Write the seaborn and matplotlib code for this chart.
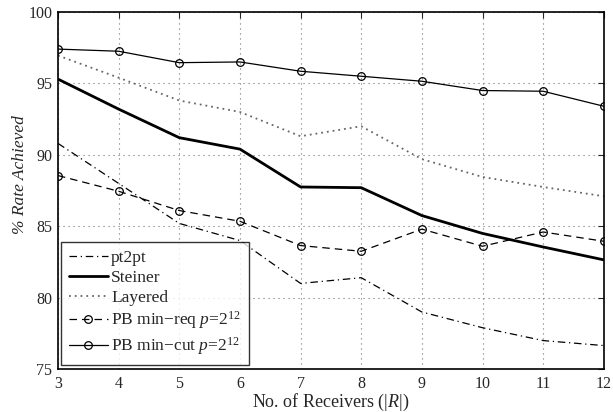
import matplotlib
matplotlib.use("Agg")
import matplotlib.pyplot as plt
import seaborn as sns
import pandas as pd

receivers = [3, 4, 5, 6, 7, 8, 9, 10, 11, 12]
pt2pt = [90.8, 88.0, 85.2, 84.0, 81.0, 81.4, 79.0, 77.9, 77.0, 76.65]
steiner = [95.3, 93.2, 91.2, 90.4, 87.75, 87.7, 85.75, 84.5, 83.55, 82.65]
layered = [96.95, 95.4, 93.8, 93.0, 91.3, 92.0, 89.7, 88.45, 87.75, 87.1]
pb_min_req = [88.55, 87.45, 86.1, 85.35, 83.65, 83.25, 84.8, 83.6, 84.6, 83.95]
pb_min_cut = [97.4, 97.25, 96.45, 96.5, 95.85, 95.5, 95.15, 94.5, 94.45, 93.4]

labels = ["pt2pt", "Steiner", "Layered",
          r"PB min$-$req $p$=2$^{\mathit{12}}$",
          r"PB min$-$cut $p$=2$^{\mathit{12}}$"]
series = [pt2pt, steiner, layered, pb_min_req, pb_min_cut]

sns.set_style("white")
plt.rcParams["font.family"] = ["Liberation Serif", "DejaVu Serif"]
plt.rcParams["mathtext.fontset"] = "custom"
plt.rcParams["mathtext.rm"] = "Liberation Serif"
plt.rcParams["mathtext.it"] = "Liberation Serif:italic"

fig = plt.figure(figsize=(6.13, 4.12), dpi=100)
ax = fig.add_axes([0.0946, 0.104, 0.8904, 0.867])

styles = [
    dict(linestyle=(0, (6, 3, 1, 3)), linewidth=0.9, marker=None),
    dict(linestyle="-", linewidth=2.0, marker=None),
    dict(linestyle=(0, (1, 2.2)), linewidth=1.3, marker=None, color="0.4"),
    dict(linestyle=(0, (6, 4)), linewidth=0.9, marker="o"),
    dict(linestyle="-", linewidth=0.9, marker="o"),
]

for vals, lab, st in zip(series, labels, styles):
    df = pd.DataFrame({"x": receivers, "y": vals})
    color = st.pop("color", "black")
    sns.lineplot(data=df, x="x", y="y", ax=ax, label=lab, color=color,
                 markerfacecolor="none", markeredgecolor="black",
                 markersize=5.5, markeredgewidth=0.9, **st)

ax.set_xlim(3, 12)
ax.set_ylim(75, 100)
ax.set_xticks(receivers)
ax.set_yticks([75, 80, 85, 90, 95, 100])
ax.tick_params(direction="in", labelsize=11.5, length=4, width=0.8,
               top=True, right=True)
ax.tick_params(axis="x", pad=5)
ax.tick_params(axis="y", pad=4)
ax.grid(True, linestyle=(0, (1, 3.5)), color="0.45", linewidth=0.8)
for s in ax.spines.values():
    s.set_visible(True)
    s.set_color("black")
    s.set_linewidth(1.2)

ax.set_xlabel(r"No. of Receivers (|$R$|)", fontsize=13, labelpad=0)
ax.set_ylabel("% Rate Achieved", fontsize=12.5, style="italic")
ax.yaxis.set_label_coords(-0.055, 0.545)

leg = ax.legend(loc="lower left", bbox_to_anchor=(0.005, 0.012), fontsize=12.5,
                frameon=True, fancybox=False, handlelength=2.3,
                handletextpad=0.15, borderpad=0.45, labelspacing=0.22,
                borderaxespad=0)
leg.get_frame().set_edgecolor("black")
leg.get_frame().set_linewidth(1.0)

fig.savefig("out.png", dpi=100)
